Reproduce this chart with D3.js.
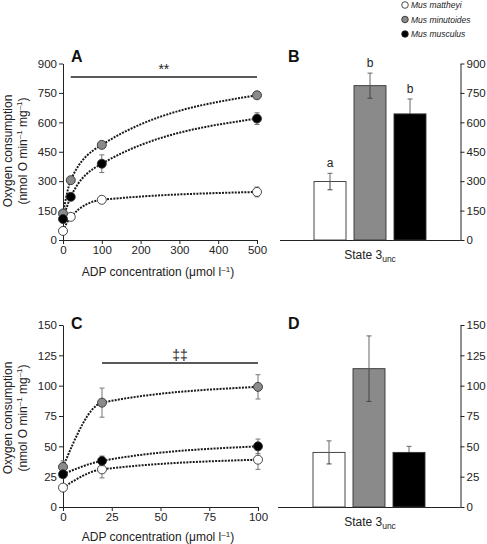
<!DOCTYPE html>
<html>
<head>
<meta charset="utf-8">
<script src="https://cdn.jsdelivr.net/npm/d3@7"></script>
<style>
  body { margin: 0; background: #fff; }
  svg { font-family: "Liberation Sans", Arial, sans-serif; }
  .tick text { font-size: 11.5px; fill: #222; font-family: "Liberation Sans", Arial, sans-serif; }
  .domain, .tick line { stroke: #222; }
</style>
</head>
<body>
<div id="chart"></div>
<script>
// species and colours
const species = ["Mus mattheyi", "Mus minutoides", "Mus musculus"];
const fills = ["#ffffff", "#8a8a8a", "#000000"];

// panel A: ADP titration (top)
const adpA = [0, 20, 100, 500];
const mattheyiA = [46, 118, 205, 245];
const minutoidesA = [135, 305, 485, 738];
const musculusA = [107, 220, 389, 619];
const errMattheyiA = [8, 10, 12, 25];
const errMinutoidesA = [10, 12, 12, 16];
const errMusculusA = [10, 14, 45, 30];

// panel B: state 3 uncoupled (top)
const state3B = [298, 787, 643];
const errState3B = [42, 64, 76];
const lettersB = ["a", "b", "b"];

// panel C: ADP titration (bottom)
const adpC = [0, 20, 100];
const mattheyiC = [16, 31, 39];
const minutoidesC = [33, 86, 99];
const musculusC = [27, 38, 50];
const errMattheyiC = [2, 7, 8];
const errMinutoidesC = [5, 12, 10];
const errMusculusC = [2, 4, 6];

// panel D: state 3 uncoupled (bottom)
const state3D = [45, 114, 45];
const errState3D = [9.5, 27, 5];

// ticks
const yTicksA = [0, 150, 300, 450, 600, 750, 900];
const xTicksA = [0, 100, 200, 300, 400, 500];
const yTicksC = [0, 25, 50, 75, 100, 125, 150];
const xTicksC = [0, 25, 50, 75, 100];

const svg = d3.select("#chart").append("svg")
    .attr("width", 487)
    .attr("height", 544);

// legend
species.forEach((s, i) => {
    const y = 5 + i * 14.5;
    svg.append("circle")
        .attr("cx", 405).attr("cy", y).attr("r", 3.3)
        .attr("fill", fills[i]).attr("stroke", "#222").attr("stroke-width", 0.8);
    svg.append("text")
        .attr("x", 411).attr("y", y + 3)
        .attr("font-size", 8.5).attr("font-style", "italic").attr("fill", "#222")
        .text(s);
});

function yLabel(cy) {
    const t = svg.append("g").attr("transform", `translate(0,${cy}) rotate(-90)`);
    t.append("text").attr("x", 0).attr("y", 12).attr("text-anchor", "middle")
        .attr("font-size", 12).attr("fill", "#222").text("Oxygen consumption");
    const l2 = t.append("text").attr("x", 0).attr("y", 26.5).attr("text-anchor", "middle")
        .attr("font-size", 12).attr("fill", "#222");
    l2.append("tspan").text("(nmol O min");
    l2.append("tspan").attr("dy", -4.5).attr("font-size", 8).text("\u20131");
    l2.append("tspan").attr("dy", 4.5).text(" mg");
    l2.append("tspan").attr("dy", -4.5).attr("font-size", 8).text("\u20131");
    l2.append("tspan").attr("dy", 4.5).text(")");
}

function xLabel(cx, y) {
    const t = svg.append("text").attr("x", cx).attr("y", y).attr("text-anchor", "middle")
        .attr("font-size", 12).attr("fill", "#222");
    t.append("tspan").text("ADP concentration (\u03bcmol l");
    t.append("tspan").attr("dy", -4.5).attr("font-size", 8).text("\u20131");
    t.append("tspan").attr("dy", 4.5).text(")");
}

function panelLetter(x, y, s) {
    svg.append("text").attr("x", x).attr("y", y)
        .attr("font-size", 16).attr("font-weight", "bold").attr("fill", "#111").text(s);
}

function lineChart(opt) {
    const x = d3.scaleLinear().domain(opt.xDomain).range([63, opt.right]);
    const y = d3.scaleLinear().domain(opt.yDomain).range([opt.bottom, opt.top]);

    svg.append("g").attr("transform", `translate(0,${opt.bottom})`)
        .call(d3.axisBottom(x).tickValues(opt.xTicks).tickSize(4).tickSizeOuter(0).tickPadding(2));
    svg.append("g").attr("transform", `translate(63,0)`)
        .call(d3.axisLeft(y).tickValues(opt.yTicks).tickSize(4).tickSizeOuter(0).tickPadding(2));

    // significance bar
    svg.append("line")
        .attr("x1", x(opt.sigFrom)).attr("x2", x(opt.xDomain[1]))
        .attr("y1", opt.sigY).attr("y2", opt.sigY)
        .attr("stroke", "#222").attr("stroke-width", 1.3);
    svg.append("text")
        .attr("x", (x(opt.sigFrom) + x(opt.xDomain[1])) / 2).attr("y", opt.sigY - 3)
        .attr("text-anchor", "middle").attr("font-size", 14).attr("fill", "#222")
        .text(opt.sigText);

    const line = d3.line()
        .x((d, i) => x(opt.adp[i]))
        .y(d => y(d))
        .curve(d3.curveMonotoneX);

    opt.series.forEach((vals, s) => {
        svg.append("path")
            .attr("d", line(vals))
            .attr("fill", "none").attr("stroke", "#1a1a1a")
            .attr("stroke-width", 2).attr("stroke-dasharray", "2,1.2");
    });

    opt.series.forEach((vals, s) => {
        const errs = opt.errors[s];
        const g = svg.append("g");
        vals.forEach((v, i) => {
            const cx = x(opt.adp[i]);
            g.append("line").attr("x1", cx).attr("x2", cx)
                .attr("y1", y(v - errs[i])).attr("y2", y(v + errs[i]))
                .attr("stroke", "#777").attr("stroke-width", 1);
            [v - errs[i], v + errs[i]].forEach(e => {
                g.append("line").attr("x1", cx - 2.5).attr("x2", cx + 2.5)
                    .attr("y1", y(e)).attr("y2", y(e))
                    .attr("stroke", "#777").attr("stroke-width", 1);
            });
        });
        vals.forEach((v, i) => {
            g.append("circle")
                .attr("cx", x(opt.adp[i])).attr("cy", y(v)).attr("r", 4.5)
                .attr("fill", fills[s]).attr("stroke", "#333").attr("stroke-width", 0.9);
        });
    });
}

function barChart(opt) {
    const x = d3.scaleBand().domain(species).range(opt.xRange).paddingInner(0.2).paddingOuter(0.1);
    const y = d3.scaleLinear().domain(opt.yDomain).range([opt.bottom, opt.top]);

    svg.append("g").attr("transform", `translate(${opt.axisX},0)`)
        .call(d3.axisRight(y).tickValues(opt.yTicks).tickSize(4).tickSizeOuter(0).tickPadding(2));
    svg.append("line")
        .attr("x1", opt.lineFrom).attr("x2", opt.axisX)
        .attr("y1", opt.bottom + 0.5).attr("y2", opt.bottom + 0.5)
        .attr("stroke", "#222");

    species.forEach((s, i) => {
        const v = opt.values[i];
        const e = opt.errors[i];
        const bx = x(s);
        const cx = bx + x.bandwidth() / 2;
        svg.append("rect")
            .attr("x", bx).attr("y", y(v))
            .attr("width", x.bandwidth()).attr("height", opt.bottom - y(v))
            .attr("fill", fills[i]).attr("stroke", "#333").attr("stroke-width", 0.9);
        const inner = i === 2 ? "#000" : "#444";
        svg.append("line").attr("x1", cx).attr("x2", cx)
            .attr("y1", y(v)).attr("y2", y(v + e)).attr("stroke", "#666");
        svg.append("line").attr("x1", cx).attr("x2", cx)
            .attr("y1", y(v)).attr("y2", y(v - e)).attr("stroke", inner);
        svg.append("line").attr("x1", cx - 2.5).attr("x2", cx + 2.5)
            .attr("y1", y(v + e)).attr("y2", y(v + e)).attr("stroke", "#666");
        svg.append("line").attr("x1", cx - 2.5).attr("x2", cx + 2.5)
            .attr("y1", y(v - e)).attr("y2", y(v - e)).attr("stroke", inner);
        if (opt.letters) {
            svg.append("text").attr("x", cx).attr("y", y(v + e) - 6)
                .attr("text-anchor", "middle").attr("font-size", 12).attr("fill", "#222")
                .text(opt.letters[i]);
        }
    });

    const t = svg.append("text").attr("x", 370).attr("y", opt.bottom + 19)
        .attr("text-anchor", "middle").attr("font-size", 12).attr("fill", "#222");
    t.append("tspan").text("State 3");
    t.append("tspan").attr("dy", 3).attr("font-size", 8.5).text("unc");
}

// top row
lineChart({
    xDomain: [0, 500], yDomain: [0, 900], right: 257, bottom: 240, top: 63.5,
    xTicks: xTicksA, yTicks: yTicksA, adp: adpA,
    series: [mattheyiA, minutoidesA, musculusA],
    errors: [errMattheyiA, errMinutoidesA, errMusculusA],
    sigFrom: 20, sigY: 77, sigText: "**"
});
barChart({
    xRange: [310, 430], axisX: 460.5, lineFrom: 280, bottom: 240, top: 63.5,
    yDomain: [0, 900], yTicks: yTicksA, values: state3B, errors: errState3B, letters: lettersB
});
yLabel(151);
xLabel(158, 276);
panelLetter(71, 62, "A");
panelLetter(288, 62, "B");

// bottom row
lineChart({
    xDomain: [0, 100], yDomain: [0, 150], right: 258, bottom: 507, top: 325,
    xTicks: xTicksC, yTicks: yTicksC, adp: adpC,
    series: [mattheyiC, minutoidesC, musculusC],
    errors: [errMattheyiC, errMinutoidesC, errMusculusC],
    sigFrom: 20, sigY: 363, sigText: "\u2021\u2021"
});
barChart({
    xRange: [309, 429], axisX: 460.5, lineFrom: 278, bottom: 507, top: 325,
    yDomain: [0, 150], yTicks: yTicksC, values: state3D, errors: errState3D
});
yLabel(418);
xLabel(158, 541);
panelLetter(71, 329, "C");
panelLetter(288, 329, "D");
</script>
</body>
</html>
